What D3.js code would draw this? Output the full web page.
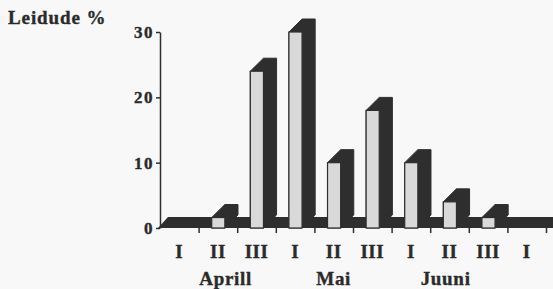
<!DOCTYPE html>
<html>
<head>
<meta charset="utf-8">
<script src="https://cdn.jsdelivr.net/npm/d3@7"></script>
<style>
	body { margin: 0; background: #f8f8f8; }
	svg { display: block; }
	text { font-family: "Liberation Serif", "Times New Roman", serif; font-weight: bold; fill: #2a2a2a; stroke: #2a2a2a; stroke-width: 0.35px; }
</style>
</head>
<body>
<svg id="svg_elem"></svg>
<script>
//define data
var decades = ['I', 'II', 'III', 'I', 'II', 'III', 'I', 'II', 'III', 'I'];
var shares = [0, 1.6, 24, 30, 10, 18, 10, 4, 1.6, 0];
var months = ['Aprill', 'Mai', 'Juuni'];
var monthPos = [1.7, 4.5, 7.4];
var yTicks = [0, 10, 20, 30];

//define constants
const svgWidth = 553;
const svgHeight = 289;
const plotLeft = 160;
const plotRight = 546;
const plotTop = 32;
const plotBase = 228;
const dark = '#2e2e2e';
const light = '#d9d9d9';

//configure svg window
var svg = d3.select('#svg_elem')
	.attr('width', svgWidth)
	.attr('height', svgHeight);

svg.append('rect')
	.attr('width', svgWidth)
	.attr('height', svgHeight)
	.attr('fill', '#f8f8f8');

//scales
var xScale = d3.scaleBand()
	.domain(d3.range(decades.length))
	.range([plotLeft, plotRight]);
var xLin = d3.scaleLinear()
	.domain([0, decades.length])
	.range([plotLeft, plotRight]);
var yScale = d3.scaleLinear()
	.domain([0, 30])
	.range([plotBase, plotTop]);

var bw = xScale.bandwidth();
var dx = bw * 0.34, dy = 13;

//floor of the 3d chart
var fdx = 10, fdy = 11;
svg.append('polygon')
	.attr('points', [[plotLeft - 2, plotBase], [plotLeft - 2 + fdx, plotBase - fdy], [plotRight + fdx + 10, plotBase - fdy], [plotRight + 10, plotBase]].join(' '))
	.attr('fill', dark);

//bars
var bars = svg.selectAll('.bar')
	.data(shares.map((v, i) => ({v: v, i: i})).filter(d => d.v > 0))
	.enter()
	.append('g')
		.classed('bar', true);

bars.append('polygon')
	.attr('points', d => {
		let x0 = xScale(d.i) + bw * 0.34;
		let x1 = x0 + bw * 0.34;
		let yt = yScale(d.v);
		return [[x0, yt], [x0 + dx, yt - dy], [x1 + dx, yt - dy], [x1 + dx, plotBase - dy], [x1, plotBase], [x0, plotBase]].join(' ');
	})
	.attr('fill', dark)
	.attr('stroke', dark)
	.attr('stroke-linejoin', 'round');

bars.append('rect')
	.attr('x', d => xScale(d.i) + bw * 0.34)
	.attr('y', d => yScale(d.v))
	.attr('width', bw * 0.34)
	.attr('height', d => plotBase - yScale(d.v))
	.attr('fill', light)
	.attr('stroke', dark)
	.attr('stroke-width', 1.2);

//y axis
var yAxis = d3.axisLeft(yScale)
	.tickValues(yTicks)
	.tickSize(4)
	.tickSizeOuter(0)
	.tickPadding(2);
var gy = svg.append('g')
	.attr('transform', `translate(${plotLeft}, 0)`)
	.call(yAxis);
gy.selectAll('path, line').attr('stroke', dark).attr('stroke-width', 1.5);
gy.selectAll('text')
	.attr('fill', '#2a2a2a')
	.style('font-size', '17px')
	.style('letter-spacing', '1.5px');

//x axis ticks at band edges
var xAxis = d3.axisBottom(xLin)
	.tickValues(d3.range(1, decades.length + 1))
	.tickSize(5)
	.tickSizeOuter(0)
	.tickFormat('');
var gx = svg.append('g')
	.attr('transform', `translate(0, ${plotBase})`)
	.call(xAxis);
gx.select('.domain').remove();
gx.selectAll('line').attr('stroke', dark).attr('stroke-width', 1.5);

//decade labels
svg.selectAll('.dec')
	.data(decades)
	.enter()
	.append('text')
		.classed('dec', true)
		.text(d => d)
		.attr('x', (d, i) => xScale(i) + bw / 2)
		.attr('y', 258)
		.attr('text-anchor', 'middle')
		.style('font-size', '19px')
		.style('letter-spacing', '0.5px');

//month labels
svg.selectAll('.month')
	.data(months)
	.enter()
	.append('text')
		.classed('month', true)
		.text(d => d)
		.attr('x', (d, i) => xLin(monthPos[i]))
		.attr('y', 285)
		.attr('text-anchor', 'middle')
		.style('font-size', '19px')
		.style('letter-spacing', '0.7px');

//axis title
svg.append('text')
	.text('Leidude %')
	.attr('x', 8)
	.attr('y', 24)
	.style('font-size', '19px')
	.style('letter-spacing', '0.9px');
</script>
</body>
</html>
